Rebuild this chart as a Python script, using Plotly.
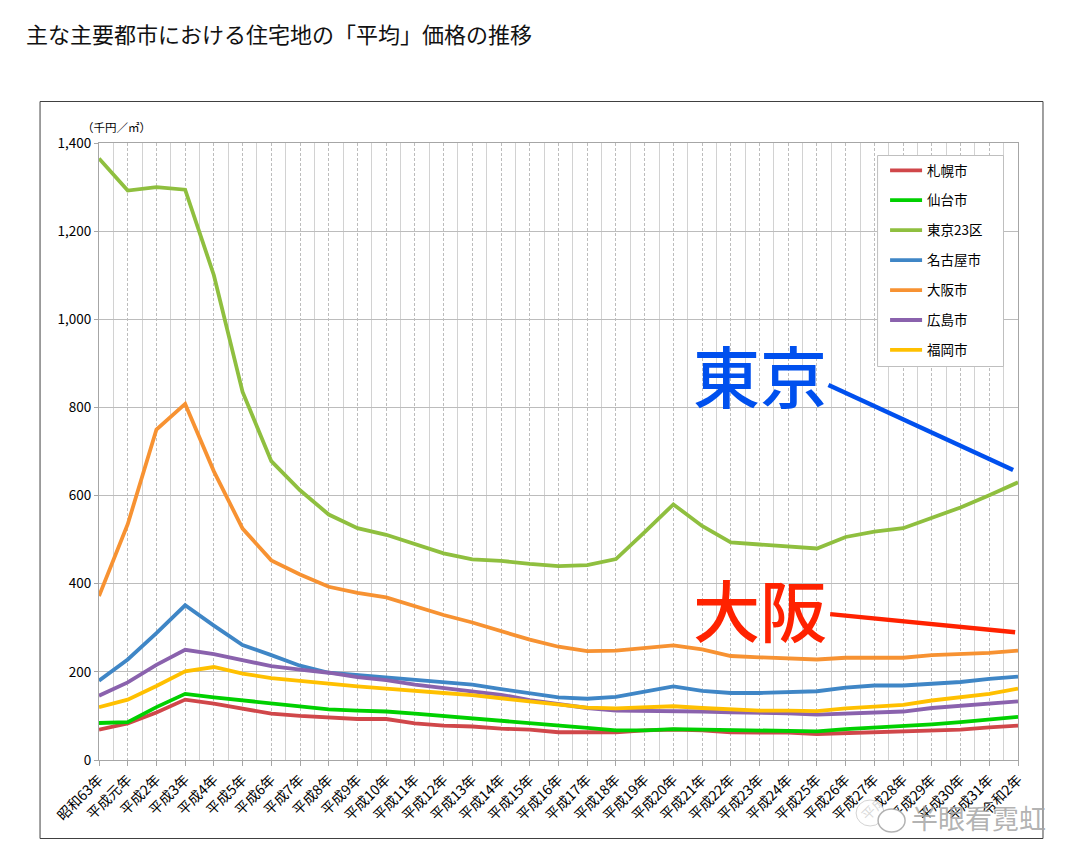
import plotly.graph_objects as go

FONT = "Noto Sans CJK JP"
categories = ["昭和63年", "平成元年"] + [f"平成{i}年" for i in range(2, 32)] + ["令和2年"]
y_ticks = [0, 200, 400, 600, 800, 1000, 1200, 1400]

sapporo = [69, 83, 108, 137, 128, 116, 105, 100, 97, 93, 93, 83, 78, 76, 71, 69, 63, 63, 63, 67, 69, 67, 63, 62, 62, 59, 61, 61, 64, 67, 69, 74, 78]
sendai = [84, 86, 120, 150, 142, 135, 127, 120, 115, 112, 110, 105, 100, 95, 88, 83, 78, 73, 67, 67, 70, 69, 67, 66, 66, 65, 70, 73, 76, 81, 86, 91, 98]
tokyo = [1365, 1292, 1300, 1294, 1100, 835, 678, 612, 557, 526, 511, 490, 469, 455, 452, 445, 440, 442, 456, 517, 580, 531, 494, 489, 484, 480, 506, 518, 526, 550, 573, 601, 630]
nagoya = [180, 228, 288, 351, 305, 261, 238, 214, 198, 193, 188, 181, 176, 171, 161, 151, 142, 139, 143, 155, 167, 157, 152, 152, 154, 156, 164, 169, 169, 172, 177, 184, 189]
osaka = [372, 535, 750, 808, 655, 525, 453, 421, 393, 379, 369, 349, 329, 312, 292, 273, 257, 247, 248, 253, 260, 251, 236, 233, 231, 228, 232, 232, 232, 238, 240, 243, 248]
hiroshima = [146, 176, 216, 250, 240, 226, 213, 205, 198, 188, 181, 171, 163, 155, 148, 136, 127, 118, 112, 112, 112, 110, 108, 108, 106, 103, 105, 108, 110, 118, 123, 128, 133]
fukuoka = [120, 137, 168, 201, 211, 196, 186, 179, 172, 167, 162, 156, 152, 147, 140, 133, 127, 119, 117, 119, 122, 118, 115, 112, 112, 111, 117, 120, 125, 135, 143, 150, 162]

series = [
    ("札幌市", sapporo, "#d0474a"),
    ("仙台市", sendai, "#00d000"),
    ("東京23区", tokyo, "#8fbf3f"),
    ("名古屋市", nagoya, "#3f86c6"),
    ("大阪市", osaka, "#f79232"),
    ("広島市", hiroshima, "#8a62ad"),
    ("福岡市", fukuoka, "#ffc000"),
]

W, H = 1080, 864
L, R, T, B = 98.5, 1018, 143, 760
def px(x): return (x - L) / (R - L)
def py(y): return (B - y) / (B - T)

x_idx = list(range(len(categories)))
fig = go.Figure()
for i, (name, vals, col) in enumerate(series):
    fig.add_trace(go.Scatter(x=x_idx, y=vals, mode="lines", name=name, legendgroup=name,
                             line=dict(color=col, width=3.8)))

axis_line = "#a6a6a6"
wm = "rgba(165,165,165,0.85)"
fig.update_layout(
    width=W, height=H, autosize=False,
    margin=dict(l=L, r=W - R, t=T, b=H - B, pad=0),
    paper_bgcolor="white", plot_bgcolor="white",
    font=dict(family=FONT, color="black", size=12),
    legend=dict(x=px(885), y=py(155), xanchor="left", yanchor="top",
                bgcolor="rgba(0,0,0,0)", borderwidth=0,
                tracegroupgap=9.4, itemwidth=32, font=dict(size=13.5, family=FONT)),
    xaxis=dict(range=[0, len(categories) - 1], tickmode="array", tickvals=x_idx, ticktext=categories,
               tickangle=-45, tickfont=dict(size=14), ticks="outside", ticklen=5, tickcolor=axis_line,
               showline=True, linecolor=axis_line, mirror=True,
               showgrid=True, gridcolor="#bdbdbd", griddash="3px,2px", gridwidth=1, zeroline=False,
               minor=dict(tick0=0.5, dtick=1, showgrid=True, gridcolor="#d2d2d2", griddash="solid", gridwidth=1, ticks="")),
    yaxis=dict(range=[0, 1400], tickmode="array", tickvals=y_ticks, tickformat=",d",
               tickfont=dict(size=13.5), ticks="outside", ticklen=4, tickcolor=axis_line,
               showline=True, linecolor=axis_line, mirror=True,
               showgrid=True, gridcolor="#bcbcbc", gridwidth=1, zeroline=False),
    shapes=[
        dict(type="rect", xref="paper", yref="paper", x0=px(39.5), x1=px(1043), y0=py(101.5), y1=py(838.5),
             line=dict(color="#404040", width=1), layer="below"),
        dict(type="rect", xref="paper", yref="paper", x0=px(877.5), x1=px(1003.5), y0=py(155.5), y1=py(366.5),
             line=dict(color="#bfbfbf", width=1), fillcolor="white", layer="above"),
        dict(type="line", xref="x", yref="y", x0=25.4, y0=851, x1=31.83, y1=658, line=dict(color="#0050ee", width=4.5)),
        dict(type="line", xref="x", yref="y", x0=25.46, y0=331, x1=31.9, y1=290, line=dict(color="#ff2200", width=4.5)),
        dict(type="circle", xref="paper", yref="paper", x0=px(856), x1=px(884), y0=py(800), y1=py(826),
             line=dict(color="rgba(200,200,200,0.8)", width=1), fillcolor="rgba(255,255,255,0.85)"),
        dict(type="circle", xref="paper", yref="paper", x0=px(878), x1=px(905), y0=py(809), y1=py(832),
             line=dict(color=wm, width=1.5), fillcolor="white"),
    ],
    annotations=[
        dict(text="主な主要都市における住宅地の「平均」価格の推移", xref="paper", yref="paper", x=px(23), y=py(33),
             xanchor="left", yanchor="middle", showarrow=False, font=dict(size=22, color="#111111")),
        dict(text="（千円／㎡）", xref="paper", yref="paper", x=px(79), y=py(127),
             xanchor="left", yanchor="middle", showarrow=False, font=dict(size=11.5)),
        dict(text="東京", xref="paper", yref="paper", x=px(760), y=py(373),
             xanchor="center", yanchor="middle", showarrow=False,
             font=dict(size=67, color="#0050ee", family="Noto Sans CJK JP Medium, Noto Sans CJK JP", weight=500)),
        dict(text="大阪", xref="paper", yref="paper", x=px(760), y=py(607),
             xanchor="center", yanchor="middle", showarrow=False,
             font=dict(size=67, color="#ff2200", family="Noto Sans CJK JP Medium, Noto Sans CJK JP", weight=500)),
        dict(text="半眼看霓虹", xref="paper", yref="paper", x=px(909), y=py(817),
             xanchor="left", yanchor="middle", showarrow=False, font=dict(size=27, color=wm)),
    ],
)
fig.write_html("out.html", config={"displayModeBar": False}, post_script="document.body.style.margin='0';")
